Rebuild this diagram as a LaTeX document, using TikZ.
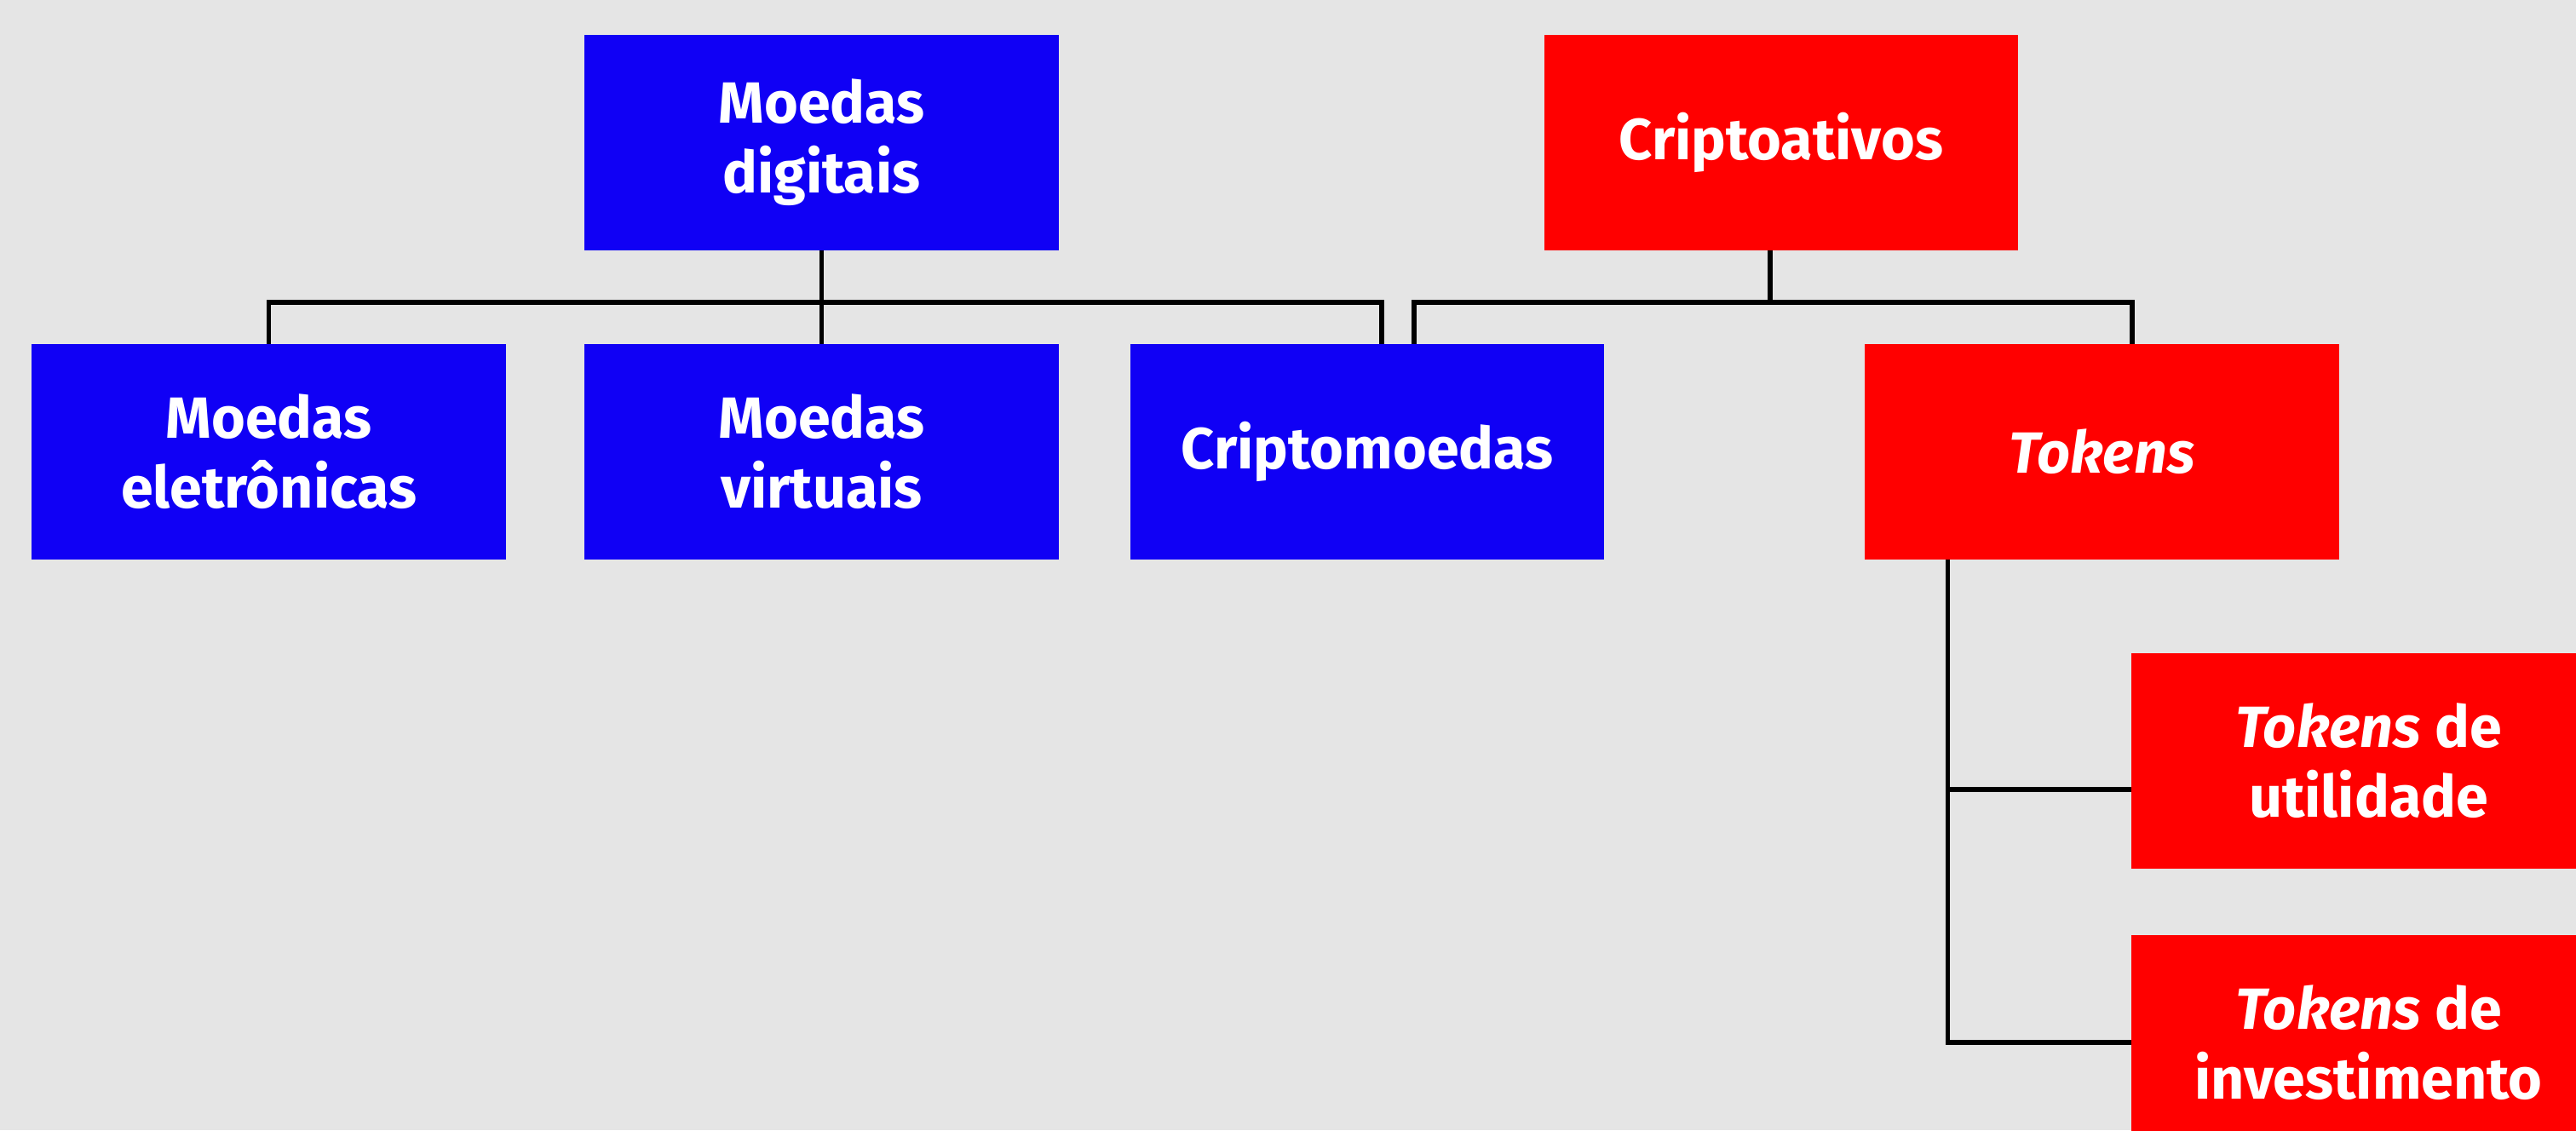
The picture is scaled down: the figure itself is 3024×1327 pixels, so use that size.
\documentclass[tikz,border=0pt]{standalone}
\usepackage{fontspec}
\setmainfont{Fira Sans}
\definecolor{bg}{HTML}{E5E5E5}
\definecolor{blu}{HTML}{1000F5}
\definecolor{rd}{HTML}{FF0000}
\begin{document}
\begin{tikzpicture}[x=0.01cm,y=-0.01cm,
  box/.style={rectangle, minimum width=5.56cm, minimum height=2.52cm, inner sep=0pt, align=center, text=white, font=\fontsize{19.4}{23.3}\selectfont\bfseries},
  bluebox/.style={box, fill=blu},
  redbox/.style={box, fill=rd},
  conn/.style={draw=black, line width=0.055cm}]
\clip (0,0) rectangle (3024,1327);
\fill[bg] (0,0) rectangle (3024,1327);
\node[bluebox] (dig) at (964.5,167.5) {Moedas\\digitais};
\node[redbox] (cri) at (2091,167.5) {Criptoativos};
\node[bluebox] (ele) at (315.5,530.5) {Moedas\\eletrônicas};
\node[bluebox] (vir) at (964.5,530.5) {Moedas\\virtuais};
\node[bluebox] (cm) at (1605,530.5) {Criptomoedas};
\node[redbox] (tok) at (2467.5,530.5) {\textit{Tokens}};
\node[redbox] (uti) at (2780.5,893.5) {\textit{Tokens} de\\utilidade};
\node[redbox] (inv) at (2780.5,1224) {\textit{Tokens} de\\investimento};
\coordinate (barA) at (0,355);
\coordinate (cmA) at ([xshift=0.17cm]cm.north);
\coordinate (cmB) at ([xshift=0.55cm]cm.north);
\coordinate (criS) at ([xshift=-0.13cm]cri.south);
\coordinate (tokN) at ([xshift=0.355cm]tok.north);
\coordinate (tokS) at ([xshift=-1.81cm]tok.south);
\coordinate (utiW) at ([yshift=-0.335cm]uti.west);
\draw[conn] (ele.north) |- (cmA |- barA) -- (cmA);
\draw[conn] (dig.south) -- (vir.north);
\draw[conn] (cmB) |- (tokN |- barA) -- (tokN);
\draw[conn] (criS) -- (criS |- barA);
\draw[conn] (tokS) |- (inv.west);
\draw[conn] (tokS |- utiW) -- (utiW);
\end{tikzpicture}
\end{document}
